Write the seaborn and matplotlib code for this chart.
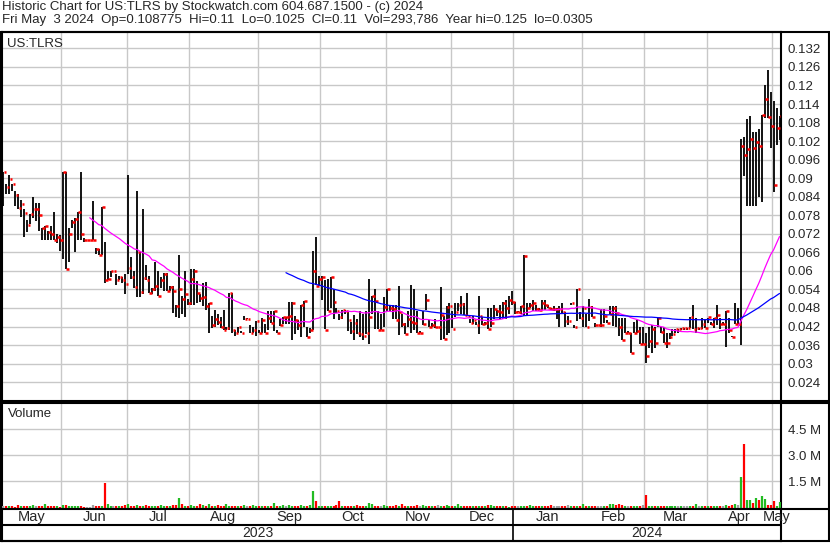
import numpy as np
import pandas as pd
import matplotlib
matplotlib.use("Agg")
import matplotlib.pyplot as plt
import seaborn as sns
from matplotlib.lines import Line2D
from matplotlib.patches import Rectangle

# ---- data (daily bars, May 4 2023 - May 3 2024) ----
high = [
    .092, .088, .091, .088, .086, .085, .083, .080, .0764, .0785,
    .084, .082, .082, .074, .0745, .073, .0745, .079, .072, .0715,
    .092, .092, .074, .0765, .077, .079, .092, .0705, .070, .070,
    .0826, .0673, .0671, .0807, .0693, .060, .060, .060, .059, .0585,
    .058, .059, .091, .0645, .060, .086, .066, .080, .062, .0585,
    .0545, .063, .060, .058, .0593, .0593, .0552, .055, .049, .065,
    .052, .060, .051, .0605, .0605, .0567, .0525, .056, .0565, .0497,
    .0455, .0475, .046, .045, .0475, .042, .053, .053, .041, .042,
    .0405, .0455, .0448, .0425, .042, .0437, .041, .0446, .0428, .047,
    .047, .047, .041, .0445, .0452, .0452, .050, .050, .0455, .044,
    .049, .0502, .0418, .0415, .0664, .071, .0585, .0582, .057, .0575,
    .058, .0543, .048, .046, .0475, .0475, .0467, .0435, .0456, .0445,
    .047, .046, .047, .0573, .052, .054, .047, .046, .0515, .054,
    .0485, .049, .049, .055, .0462, .0433, .047, .0553, .054, .047,
    .0405, .047, .0524, .044, .043, .0445, .042, .0548, .0453, .0485,
    .0496, .047, .0496, .0496, .052, .0496, .053, .0445, .0455, .0435,
    .0518, .045, .0435, .048, .048, .049, .0475, .049, .050, .0505,
    .052, .0535, .050, .047, .0488, .065, .0495, .0495, .0505, .049,
    .048, .0505, .0505, .049, .048, .0485, .048, .0485, .0495, .0468,
    .0455, .0497, .0425, .054, .0468, .0485, .046, .0508, .0485, .043,
    .0425, .0478, .0478, .044, .0485, .0485, .0485, .0448, .0448, .0448,
    .0405, .040, .0435, .044, .042, .042, .040, .0418, .0425, .0418,
    .0448, .042, .042, .040, .040, .0413, .0413, .0413, .0414, .0414,
    .0414, .045, .049, .0447, .0416, .0447, .0445, .0448, .0435, .0449,
    .049, .0448, .0435, .0469, .0448, .039, .0497, .048, .1028, .1033,
    .109, .110, .105, .105, .106, .1105, .120, .125, .118, .115, .1127, .110,
]
low = [
    .081, .085, .085, .086, .081, .080, .0775, .071, .0725, .0753,
    .077, .076, .073, .070, .070, .070, .070, .070, .069, .0665,
    .064, .0605, .063, .074, .066, .070, .070, .0695, .070, .070,
    .070, .0655, .0652, .065, .0562, .057, .058, .060, .0555, .057,
    .056, .0525, .059, .0575, .0545, .0517, .0517, .0524, .057, .053,
    .0525, .0535, .052, .0545, .0535, .0535, .0535, .0465, .045, .0448,
    .046, .045, .049, .049, .049, .0496, .050, .0486, .0475, .040,
    .0415, .042, .0425, .0415, .041, .041, .041, .040, .039, .040,
    .040, .044, .0445, .040, .040, .039, .040, .040, .040, .041,
    .043, .0407, .040, .0423, .0428, .0428, .0428, .0375, .0396, .041,
    .0386, .0418, .0385, .040, .041, .0553, .055, .0505, .0413, .047,
    .048, .0445, .0465, .044, .0445, .046, .0405, .0397, .0375, .0397,
    .0385, .0377, .0397, .0363, .046, .0413, .0413, .041, .042, .047,
    .047, .0445, .0445, .0393, .042, .0395, .042, .040, .041, .040,
    .040, .0425, .0475, .042, .042, .0415, .042, .0375, .038, .0393,
    .040, .0415, .045, .047, .046, .0456, .0458, .043, .0427, .0425,
    .0396, .0425, .0425, .0413, .042, .0445, .0455, .0445, .0445, .0445,
    .046, .049, .046, .0466, .046, .0455, .0455, .048, .047, .047,
    .047, .0475, .0475, .048, .0475, .047, .0445, .042, .0465, .042,
    .0425, .049, .0415, .0438, .0445, .042, .042, .0438, .045, .042,
    .0425, .042, .043, .043, .046, .0422, .042, .039, .0378, .040,
    .040, .0335, .040, .040, .0364, .0364, .0303, .0352, .0335, .0352,
    .042, .040, .0366, .0352, .038, .039, .040, .040, .041, .041,
    .041, .0414, .0413, .0398, .041, .0413, .0415, .043, .0425, .0415,
    .0425, .0413, .0425, .0355, .040, .0385, .0429, .0429, .036, .0907,
    .081, .081, .081, .081, .084, .0822, .1095, .1095, .0998, .0855, .1006, .1025,
]
close = [
    .092, .087, .0897, .088, .0847, .0804, .0817, .0788, .075, .0785,
    .080, .080, .078, .0738, .0745, .0725, .072, .070, .071, .070,
    .092, .0605, .0718, .0757, .0768, .079, .072, .070, .070, .070,
    .070, .0672, .0653, .0807, .0572, .0575, .060, .060, .057, .058,
    .057, .0559, .061, .058, .0549, .066, .0533, .0578, .057, .053,
    .054, .055, .052, .057, .059, .0535, .0548, .0535, .0485, .054,
    .0508, .0526, .0495, .0573, .060, .053, .0513, .0515, .0486, .0497,
    .0425, .0445, .0435, .042, .041, .0415, .053, .041, .040, .0418,
    .040, .0445, .0445, .040, .041, .0437, .040, .0442, .040, .0447,
    .0431, .047, .040, .0424, .045, .045, .0455, .0496, .0442, .0425,
    .049, .0502, .0385, .041, .060, .055, .0575, .058, .041, .047,
    .058, .050, .047, .045, .0475, .047, .044, .0405, .043, .040,
    .0395, .0388, .040, .045, .0518, .0502, .041, .041, .0483, .054,
    .048, .0477, .0442, .0467, .0428, .0395, .0445, .0434, .043, .040,
    .040, .0428, .0507, .042, .0425, .042, .042, .0458, .038, .0483,
    .0486, .0413, .0467, .049, .0493, .0456, .0455, .043, .044, .0425,
    .0453, .0427, .043, .0413, .043, .0477, .047, .0466, .0497, .048,
    .0507, .050, .0466, .0466, .0486, .0647, .048, .0489, .0497, .0476,
    .0474, .0497, .049, .048, .0478, .0478, .0478, .0478, .0467, .0438,
    .0438, .0497, .0418, .054, .0449, .048, .0418, .0483, .0452, .0425,
    .0425, .0425, .0454, .0432, .046, .048, .0463, .0418, .0378, .040,
    .040, .0335, .040, .0405, .0364, .0364, .0324, .0373, .0413, .0368,
    .0446, .0403, .0366, .0367, .0387, .0397, .0413, .0413, .0414, .0414,
    .0414, .045, .0413, .0416, .0416, .0429, .0416, .045, .0429, .0446,
    .0457, .0429, .0429, .0469, .0408, .0387, .0429, .0429, .1003, .0975,
    .0993, .1026, .0997, .1017, .1003, .1105, .1155, .1098, .107, .0878, .1062, .110,
]
# volume in thousands of shares
volume = [
    90, 70, 110, 80, 60, 130, 90, 120, 80, 70,
    150, 90, 70, 110, 180, 80, 70, 120, 90, 60,
    160, 130, 90, 70, 80, 110, 120, 60, 40, 40,
    130, 70, 80, 110, 1440, 200, 90, 80, 70, 90,
    110, 130, 230, 110, 80, 150, 90, 70, 130, 80,
    90, 70, 120, 160, 110, 80, 90, 130, 150, 540,
    190, 90, 120, 160, 90, 70, 180, 130, 90, 200,
    110, 80, 150, 90, 120, 190, 90, 70, 80, 110,
    90, 150, 110, 70, 130, 90, 80, 120, 90, 110,
    80, 240, 90, 70, 130, 90, 150, 110, 80, 90,
    140, 110, 120, 170, 940, 370, 90, 80, 110, 90,
    70, 90, 130, 370, 90, 80, 90, 70, 110, 130,
    90, 120, 80, 250, 180, 110, 90, 70, 130, 90,
    120, 90, 150, 90, 190, 80, 90, 70, 110, 130,
    90, 140, 80, 70, 120, 90, 170, 110, 90, 130,
    80, 110, 70, 200, 90, 90, 120, 70, 110, 80,
    120, 90, 70, 130, 170, 90, 80, 110, 70, 90,
    60, 70, 90, 80, 110, 120, 90, 150, 70, 80,
    90, 70, 110, 80, 130, 90, 70, 120, 90, 80,
    140, 90, 70, 120, 80, 180, 90, 70, 110, 90,
    80, 110, 70, 90, 200, 230, 150, 220, 130, 90,
    110, 70, 80, 90, 70, 130, 710, 80, 90, 110,
    70, 90, 80, 110, 70, 90, 80, 70, 90, 80,
    70, 90, 80, 180, 90, 70, 110, 80, 90, 70,
    90, 80, 110, 170, 120, 130, 200, 140, 1750, 3650,
    420, 420, 270, 540, 450, 650, 480, 150, 150, 370, 120, 294,
]

price_ticks = [0.024, 0.03, 0.036, 0.042, 0.048, 0.054, 0.06, 0.066, 0.072, 0.078,
               0.084, 0.09, 0.096, 0.102, 0.108, 0.114, 0.12, 0.126, 0.132]
vol_ticks = [1.5e6, 3.0e6, 4.5e6]
vol_tick_labels = ["1.5 M", "3.0 M", "4.5 M"]

header1 = "Historic Chart for US:TLRS by Stockwatch.com 604.687.1500 - (c) 2024"
header2 = ("Fri May  3 2024  Op=0.108775  Hi=0.11  Lo=0.1025  Cl=0.11  "
           "Vol=293,786  Year hi=0.125  lo=0.0305")

# ---- frame ----
dates = pd.bdate_range("2023-05-04", "2024-05-03")
df = pd.DataFrame({"date": dates, "high": high, "low": low,
                   "close": close, "volume": np.array(volume) * 1000.0})
df["x"] = np.arange(len(df))
df["ma_short"] = df["close"].rolling(30).mean()
df["ma_long"] = df["close"].rolling(96).mean()

chg = df["close"].diff()
vol_colors = np.where(chg > 0, "#22bb22", np.where(chg < 0, "#ff0000", "#a0a0a0"))

# month boundaries
starts = [0] + [i for i in range(1, len(df)) if dates[i].month != dates[i - 1].month]
ends = starts[1:] + [len(df)]
bounds = [s - 0.5 for s in starts[1:]]

sns.set_style("white")
plt.rcParams["font.family"] = ["Liberation Sans", "DejaVu Sans"]

W, H = 830, 543
fig = plt.figure(figsize=(W / 100, H / 100), dpi=100)


def box(l, t, r, b):
    return [l / W, 1 - b / H, (r - l) / W, (b - t) / H]


ax = fig.add_axes(box(2, 32, 781, 401))
axv = fig.add_axes(box(2, 403, 781, 509))
axd = fig.add_axes(box(2, 509, 781, 541))

grid_c = "#c8c8c8"
xlim = (-0.5, len(df) - 0.5)

# price panel
ax.vlines(df["x"], df["low"], df["high"], color="black", lw=1.3, zorder=3)
ax.hlines(df["close"], df["x"] + 0.1, df["x"] + 1.0, color="red", lw=1.8, zorder=4)
sns.lineplot(data=df, x="x", y="ma_short", color="#ff00ff", lw=0.9, ax=ax, zorder=5)
sns.lineplot(data=df, x="x", y="ma_long", color="#0000ff", lw=0.9, ax=ax, zorder=5)
ax.set_xlim(*xlim)
ax.set_ylim(0.0179, 0.1373)
ax.set_yticks(price_ticks)
ax.set_yticklabels([f"{v:g}" for v in price_ticks])
ax.text(0.007, 0.985, "US:TLRS", transform=ax.transAxes, va="top", ha="left", fontsize=9.5)

# volume panel (drawn as thick stems, one per day)
axv.vlines(df["x"], 0, df["volume"], colors=vol_colors, lw=1.6, zorder=3)
axv.set_xlim(*xlim)
axv.set_ylim(-0.08e6, 6.0e6)
axv.set_yticks(vol_ticks)
axv.set_yticklabels(vol_tick_labels)
axv.text(0.007, 0.95, "Volume", transform=axv.transAxes, va="top", ha="left", fontsize=9.5)

for a in (ax, axv):
    a.set_xlabel("")
    a.set_ylabel("")
    a.set_xticks(bounds)
    a.set_xticklabels([])
    a.yaxis.tick_right()
    a.tick_params(axis="both", length=0, labelsize=9.5, pad=5)
    a.grid(True, color=grid_c, lw=1)
    a.set_axisbelow(True)
    for s in a.spines.values():
        s.set_color("black")
        s.set_linewidth(1.5)

# date strip
axd.set_xlim(*xlim)
axd.set_ylim(0, 2)
axd.set_xticks([])
axd.set_yticks([])
axd.axhline(1, color="black", lw=1.5)
for s in axd.spines.values():
    s.set_color("black")
    s.set_linewidth(1.5)
for s, e in zip(starts, ends):
    axd.text((s + e - 1) / 2, 1.5, dates[s].strftime("%b"), ha="center", va="center",
             fontsize=10.5, clip_on=False)
years = sorted(set(dates.year))
for y in years:
    idx = np.where(dates.year == y)[0]
    axd.text((idx[0] + idx[-1]) / 2, 0.5, str(y), ha="center", va="center", fontsize=10)
    if idx[0] > 0:
        axd.vlines(idx[0] - 0.5, 0, 2, color="black", lw=1.2)

# header + outer frame
fig.text(2 / W, 1 - 1 / H, header1, ha="left", va="top", fontsize=9.5)
fig.text(2 / W, 1 - 14 / H, header2, ha="left", va="top", fontsize=9.5)
fig.add_artist(Rectangle((1 / W, 1 - 541 / H), 828 / W, 509 / H, fill=False,
                         ec="black", lw=1.5, transform=fig.transFigure))
for yy in (401, 403, 509):
    fig.add_artist(Line2D([781 / W, 829 / W], [1 - yy / H, 1 - yy / H],
                          color="black", lw=1.5, transform=fig.transFigure))

fig.savefig("out.png", dpi=100)
